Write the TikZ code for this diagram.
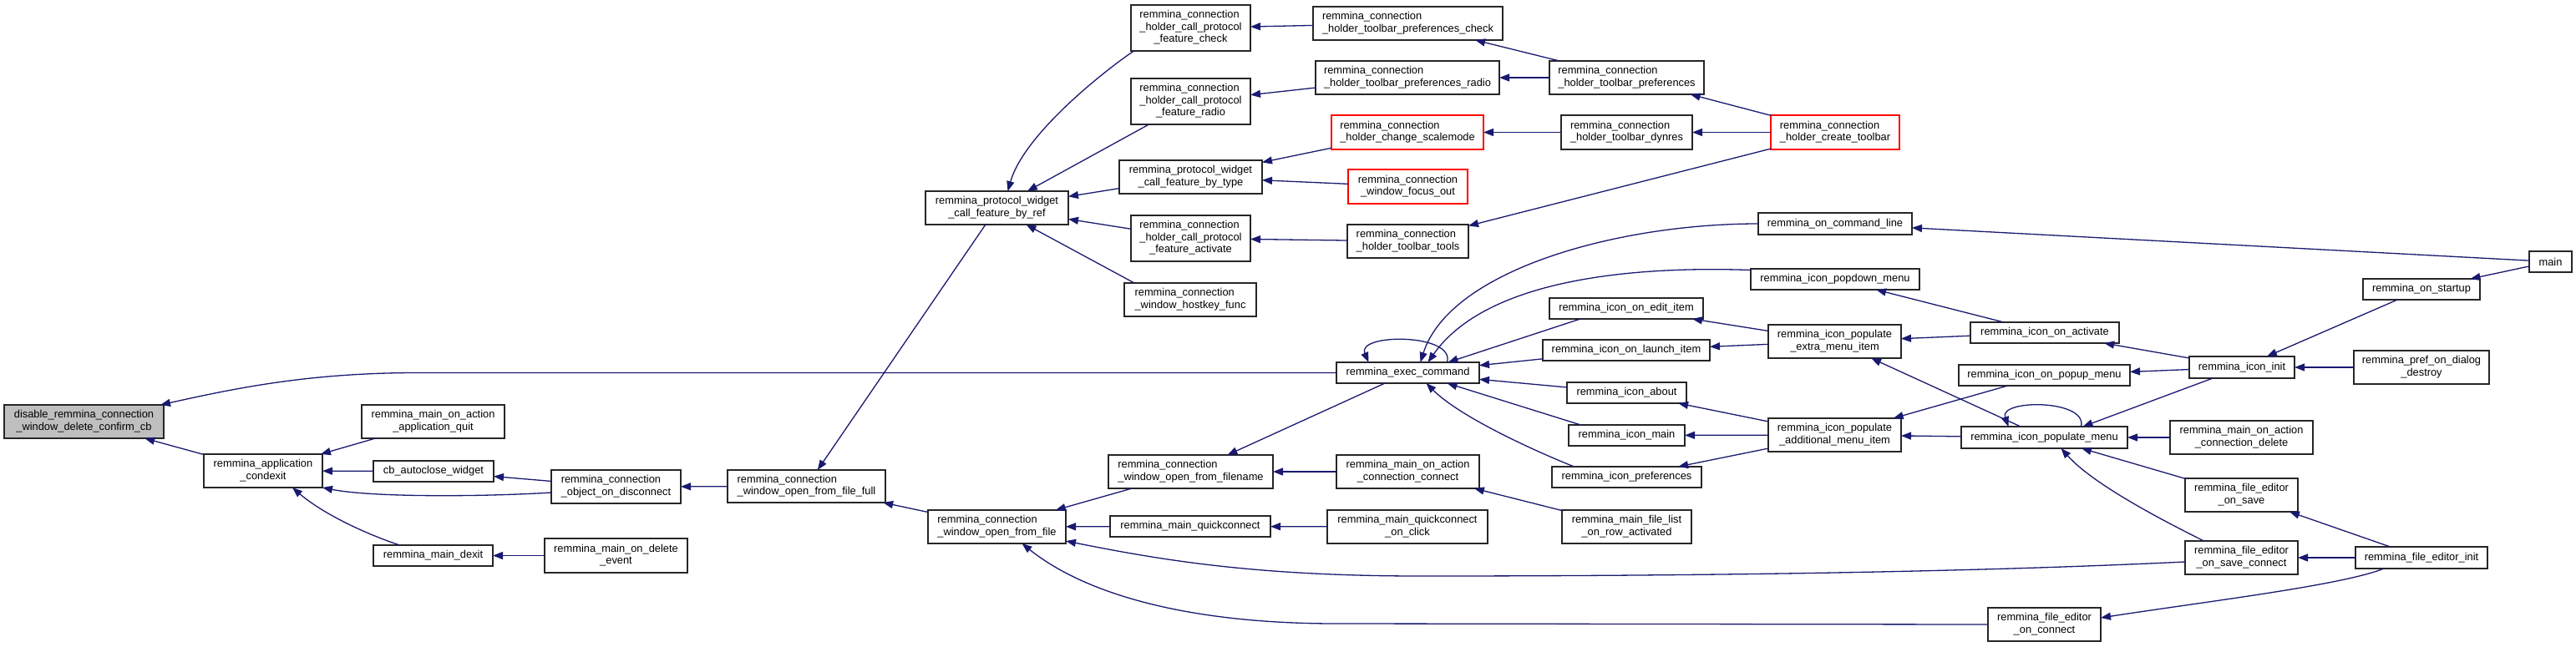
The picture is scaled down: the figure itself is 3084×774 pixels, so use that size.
\documentclass[tikz,border=0pt]{standalone}
\usepackage{fontspec}
\setmainfont{Liberation Sans}
\usetikzlibrary{arrows.meta,calc}
\definecolor{edgec}{HTML}{191970}
\definecolor{rootfill}{HTML}{BFBFBF}
\newcommand\two[2]{\begin{tabular}{@{}l@{}}#1\\\multicolumn{1}{@{}c@{}}{#2}\end{tabular}}
\newcommand\three[3]{\begin{tabular}{@{}l@{}}#1\\#2\\\multicolumn{1}{@{}c@{}}{#3}\end{tabular}}
\newcommand\nd[7][]{\node[fn,#1,minimum width={#5-#3},minimum height={#6-#4}] (#2) at ({(#3+#5)/2},{(#4+#6)/2}) {#7};}
\tikzset{
  fn/.style={draw=black!85, line width=1.5pt, fill=white, inner sep=0pt, outer sep=0pt,
    font=\fontsize{12.85}{14.5}\selectfont, text=black},
  rootn/.style={fill=rootfill},
  redn/.style={draw=red},
  edge/.style={draw=edgec, line width=1.3pt, -{Triangle[length=12pt,width=9pt]}},
}
\begin{document}
\begin{tikzpicture}[x=1pt,y=-1pt]
\fill[white] (0,0) rectangle (3084,774);
\useasboundingbox (0,0) rectangle (3084,774);
% nodes
\nd[rootn]{disable}{5}{485}{196}{525}{\two{disable\_remmina\_connection}{\_window\_delete\_confirm\_cb}}
\nd{condexit}{244}{544}{386}{584}{\two{remmina\_application}{\_condexit}}
\nd{quit}{433}{485}{604}{525}{\two{remmina\_main\_on\_action}{\_application\_quit}}
\nd{autoclose}{447}{552}{591}{577}{cb\_autoclose\_widget}
\nd{objdisc}{660}{563}{815}{603}{\two{remmina\_connection}{\_object\_on\_disconnect}}
\nd{dexit}{447}{653}{590}{678}{remmina\_main\_dexit}
\nd{ondelete}{652}{645}{823}{686}{\two{remmina\_main\_on\_delete}{\_event}}
\nd{openfull}{871}{563}{1060}{602}{\two{remmina\_connection}{\_window\_open\_from\_file\_full}}
\nd{byref}{1108}{229}{1279}{269}{\two{remmina\_protocol\_widget}{\_call\_feature\_by\_ref}}
\nd{fcheck}{1354}{6}{1497}{61}{\three{remmina\_connection}{\_holder\_call\_protocol}{\_feature\_check}}
\nd{fradio}{1354}{94}{1497}{149}{\three{remmina\_connection}{\_holder\_call\_protocol}{\_feature\_radio}}
\nd{bytype}{1340}{192}{1511}{232}{\two{remmina\_protocol\_widget}{\_call\_feature\_by\_type}}
\nd{factivate}{1354}{258}{1497}{313}{\three{remmina\_connection}{\_holder\_call\_protocol}{\_feature\_activate}}
\nd{hostkey}{1346}{339}{1504}{379}{\two{remmina\_connection}{\_window\_hostkey\_func}}
\nd{tpcheck}{1572}{8}{1799}{48}{\two{remmina\_connection}{\_holder\_toolbar\_preferences\_check}}
\nd{tpradio}{1575}{73}{1795}{113}{\two{remmina\_connection}{\_holder\_toolbar\_preferences\_radio}}
\nd[redn]{scalemode}{1594}{138}{1776}{179}{\two{remmina\_connection}{\_holder\_change\_scalemode}}
\nd[redn]{focusout}{1614}{203}{1757}{244}{\two{remmina\_connection}{\_window\_focus\_out}}
\nd{ttools}{1613}{269}{1758}{309}{\two{remmina\_connection}{\_holder\_toolbar\_tools}}
\nd{tprefs}{1855}{73}{2040}{113}{\two{remmina\_connection}{\_holder\_toolbar\_preferences}}
\nd{dynres}{1869}{138}{2026}{179}{\two{remmina\_connection}{\_holder\_toolbar\_dynres}}
\nd[redn]{ctoolbar}{2120}{138}{2274}{179}{\two{remmina\_connection}{\_holder\_create\_toolbar}}
\nd{exec}{1600}{434}{1771}{459}{remmina\_exec\_command}
\nd{cmdline}{2105}{255}{2289}{281}{remmina\_on\_command\_line}
\nd{popdown}{2096}{322}{2298}{347}{remmina\_icon\_popdown\_menu}
\nd{edititem}{1855}{357}{2039}{382}{remmina\_icon\_on\_edit\_item}
\nd{launchitem}{1847}{407}{2047}{432}{remmina\_icon\_on\_launch\_item}
\nd{popextra}{2117}{389}{2276}{429}{\two{remmina\_icon\_populate}{\_extra\_menu\_item}}
\nd{about}{1876}{458}{2019}{483}{remmina\_icon\_about}
\nd{iconmain}{1878}{509}{2017}{534}{remmina\_icon\_main}
\nd{iconprefs}{1858}{559}{2037}{584}{remmina\_icon\_preferences}
\nd{popadd}{2117}{501}{2276}{541}{\two{remmina\_icon\_populate}{\_additional\_menu\_item}}
\nd{openfile}{1111}{611}{1276}{651}{\two{remmina\_connection}{\_window\_open\_from\_file}}
\nd{openfname}{1327}{545}{1524}{585}{\two{remmina\_connection}{\_window\_open\_from\_filename}}
\nd{quickconnect}{1329}{618}{1521}{643}{remmina\_main\_quickconnect}
\nd{actconnect}{1600}{545}{1771}{585}{\two{remmina\_main\_on\_action}{\_connection\_connect}}
\nd{qcclick}{1589}{611}{1781}{651}{\two{remmina\_main\_quickconnect}{\_on\_click}}
\nd{filelist}{1870}{611}{2025}{651}{\two{remmina\_main\_file\_list}{\_on\_row\_activated}}
\nd{feonconnect}{2380}{728}{2515}{768}{\two{remmina\_file\_editor}{\_on\_connect}}
\nd{main}{3028}{301}{3079}{326}{main}
\nd{startup}{2829}{334}{2969}{359}{remmina\_on\_startup}
\nd{onactivate}{2359}{386}{2537}{411}{remmina\_icon\_on\_activate}
\nd{iconinit}{2621}{427}{2747}{453}{remmina\_icon\_init}
\nd{prefdestroy}{2818}{420}{2980}{460}{\two{remmina\_pref\_on\_dialog}{\_destroy}}
\nd{popupmenu}{2345}{437}{2550}{462}{remmina\_icon\_on\_popup\_menu}
\nd{popmenu}{2348}{511}{2547}{537}{remmina\_icon\_populate\_menu}
\nd{actdelete}{2598}{504}{2769}{544}{\two{remmina\_main\_on\_action}{\_connection\_delete}}
\nd{onsave}{2616}{573}{2751}{613}{\two{remmina\_file\_editor}{\_on\_save}}
\nd{onsaveconn}{2616}{648}{2751}{688}{\two{remmina\_file\_editor}{\_on\_save\_connect}}
\nd{feinit}{2820}{655}{2978}{681}{remmina\_file\_editor\_init}
% waypoints
\coordinate (w1) at (1700,690);
\coordinate (w2) at (500,446.5);
\coordinate (w3) at (1600,747);
% edges
\draw[edge] (condexit) -- (disable);
\draw[edge] (quit) -- (condexit);
\draw[edge] (autoclose) -- (condexit);
\draw[edge] ([yshift=-7pt]objdisc.west) .. controls +(-80,5) and +(60,12) .. (condexit.south east);
\draw[edge] ([xshift=-40pt]dexit.north) .. controls +(-45,-15) and +(35,30) .. ([xshift=35pt]condexit.south);
\draw[edge] (objdisc) -- (autoclose);
\draw[edge] (openfull) -- (objdisc);
\draw[edge] (ondelete) -- (dexit);
\draw[edge] (byref) -- (openfull);
\draw[edge] (openfile) -- (openfull);
\draw[edge] ([xshift=-68pt]fcheck.south) .. controls +(-30,20) and +(20,-70) .. ([xshift=13pt]byref.north);
\draw[edge] (fradio) -- (byref);
\draw[edge] (bytype) -- (byref);
\draw[edge] (factivate) -- (byref);
\draw[edge] ([xshift=-67pt]hostkey.north) -- ([xshift=35pt]byref.south);
\draw[edge] (tpcheck) -- (fcheck);
\draw[edge] (tprefs) -- (tpcheck);
\draw[edge] (tpradio) -- (fradio);
\draw[edge] (tprefs) -- (tpradio);
\draw[edge] (ctoolbar) -- (tprefs);
\draw[edge] (dynres) -- (scalemode);
\draw[edge] (ctoolbar) -- (dynres);
\draw[edge] (scalemode) -- (bytype);
\draw[edge] (focusout) -- (bytype);
\draw[edge] (ctoolbar) -- (ttools);
\draw[edge] (ttools) -- (factivate);
\draw[edge] (exec.west) -- (w2) .. controls +(-130,0) and +(90,-20) .. ([xshift=-4pt]disable.north east);
\draw[edge] ([xshift=47pt]exec.north) .. controls +(10,-35) and +(-15,-35) .. ([xshift=-47pt]exec.north);
\draw[edge] (cmdline.west) .. controls +(-170,0) and +(35,-110) .. ([xshift=15pt]exec.north);
\draw[edge] ([yshift=11pt]popdown.west) .. controls +(-140,-5) and +(70,-100) .. ([xshift=24pt]exec.north);
\draw[edge] ([xshift=-55pt]edititem.south) -- ([xshift=48pt]exec.north);
\draw[edge] (launchitem) -- (exec);
\draw[edge] (about) -- (exec);
\draw[edge] ([xshift=-55pt]iconmain.north) -- ([xshift=47pt]exec.south);
\draw[edge] ([xshift=-63pt]iconprefs.north) .. controls +(-50,-20) and +(40,40) .. ([xshift=22pt]exec.south);
\draw[edge] (popextra) -- (edititem);
\draw[edge] (popextra) -- (launchitem);
\draw[edge] (popadd) -- (about);
\draw[edge] (popadd) -- (iconmain);
\draw[edge] (popadd) -- (iconprefs);
\draw[edge] (exec) -- (openfname);
\draw[edge] (actconnect) -- (openfname);
\draw[edge] (openfname) -- (openfile);
\draw[edge] (quickconnect) -- (openfile);
\draw[edge] (qcclick) -- (quickconnect);
\draw[edge] (filelist) -- (actconnect);
\draw[edge] ([yshift=-5pt]onsaveconn.west) .. controls +(-250,12) and +(350,0) .. (w1) .. controls +(-200,0) and +(110,22) .. ([yshift=3pt]openfile.south east);
\draw[edge] (feonconnect.west) -- (w3) .. controls +(-180,0) and +(75,60) .. ([xshift=30pt]openfile.south);
\draw[edge] ([xshift=-45pt]onsaveconn.north) .. controls +(-40,-20) and +(40,45) .. ([xshift=20pt]popmenu.south);
\draw[edge] (onsave) -- (popmenu);
\draw[edge] (actdelete) -- (popmenu);
\draw[edge] (iconinit) -- ([xshift=46pt]popmenu.north);
\draw[edge] ([xshift=44pt]popmenu.north) .. controls +(8,-33) and +(-12,-33) .. ([xshift=-43pt]popmenu.north);
\draw[edge] (popmenu) -- (popextra);
\draw[edge] (popupmenu) -- (popadd);
\draw[edge] (popmenu) -- (popadd);
\draw[edge] (onactivate) -- (popdown);
\draw[edge] (onactivate) -- (popextra);
\draw[edge] (iconinit) -- (onactivate);
\draw[edge] (iconinit) -- (popupmenu);
\draw[edge] (startup) -- (iconinit);
\draw[edge] (prefdestroy) -- (iconinit);
\draw[edge] (main) -- (cmdline);
\draw[edge] (main) -- (startup);
\draw[edge] (feinit) -- (onsave);
\draw[edge] (feinit) -- (onsaveconn);
\draw[edge] ([xshift=-45pt]feinit.south) .. controls +(-50,20) and +(130,-20) .. ([yshift=8pt]feonconnect.east);
\end{tikzpicture}
\end{document}
